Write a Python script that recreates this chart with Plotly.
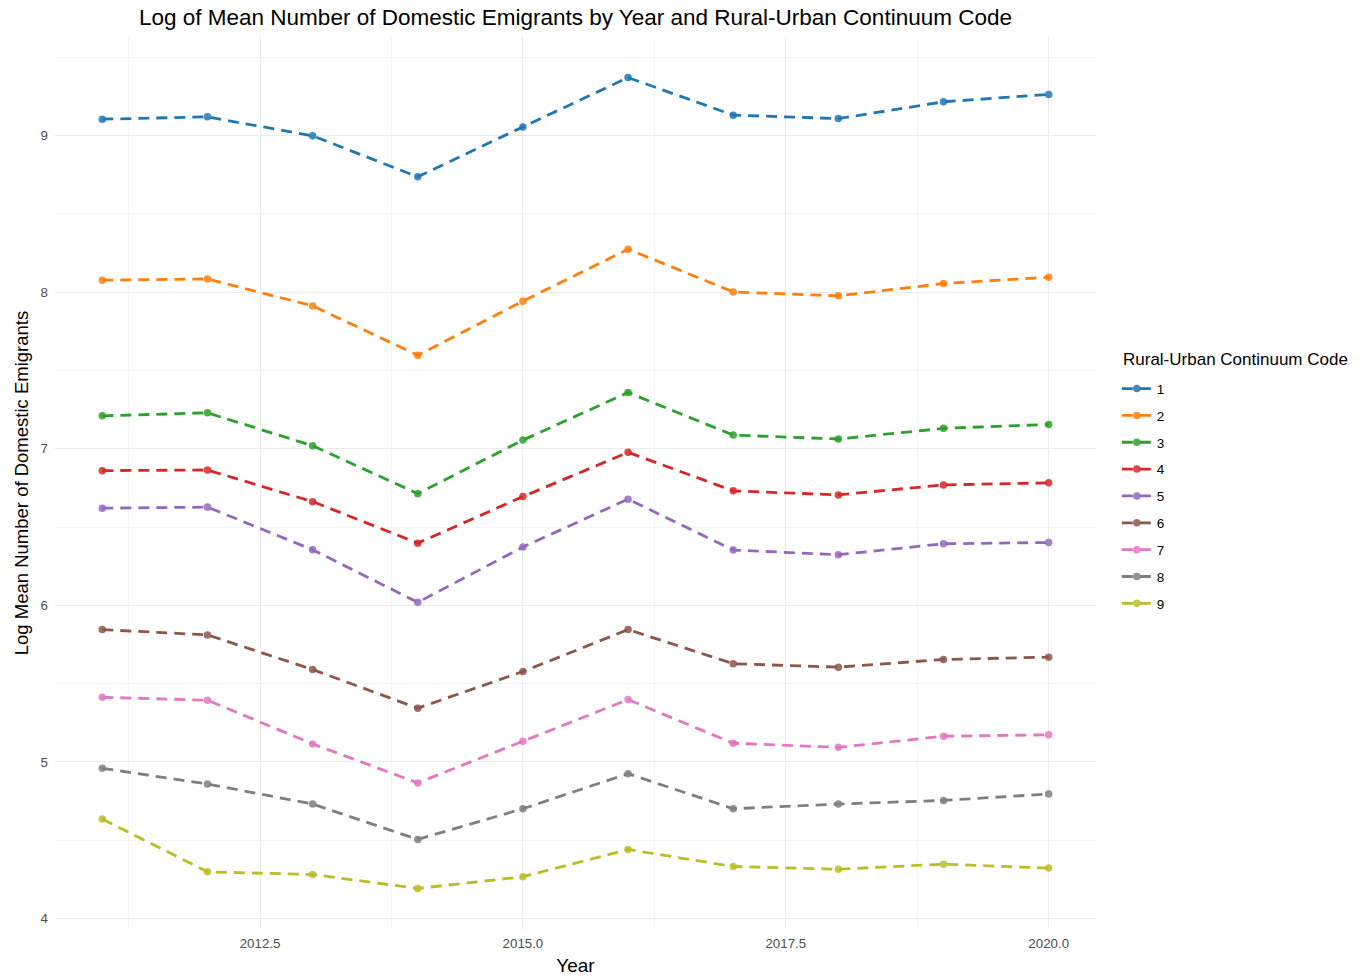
import plotly.graph_objects as go

years = [2011, 2012, 2013, 2014, 2015, 2016, 2017, 2018, 2019, 2020]
codes = ["1", "2", "3", "4", "5", "6", "7", "8", "9"]

code_1 = [9.104, 9.119, 8.998, 8.736, 9.055, 9.370, 9.130, 9.108, 9.215, 9.262]
code_2 = [8.076, 8.084, 7.912, 7.597, 7.942, 8.274, 8.001, 7.976, 8.055, 8.095]
code_3 = [7.210, 7.229, 7.019, 6.713, 7.055, 7.359, 7.087, 7.062, 7.130, 7.155]
code_4 = [6.860, 6.864, 6.662, 6.397, 6.694, 6.977, 6.731, 6.705, 6.769, 6.782]
code_5 = [6.620, 6.627, 6.355, 6.019, 6.372, 6.678, 6.353, 6.323, 6.393, 6.401]
code_6 = [5.845, 5.811, 5.590, 5.343, 5.577, 5.845, 5.627, 5.605, 5.654, 5.669]
code_7 = [5.413, 5.394, 5.115, 4.866, 5.132, 5.398, 5.119, 5.093, 5.164, 5.173]
code_8 = [4.959, 4.859, 4.731, 4.505, 4.701, 4.925, 4.701, 4.731, 4.754, 4.795]
code_9 = [4.635, 4.298, 4.281, 4.192, 4.267, 4.441, 4.332, 4.315, 4.347, 4.322]

series = [code_1, code_2, code_3, code_4, code_5, code_6, code_7, code_8, code_9]
colors = ["#1f77b4", "#ff7f0e", "#2ca02c", "#d62728", "#9467bd",
          "#8c564b", "#e377c2", "#7f7f7f", "#bcbd22"]

FONT = "Liberation Sans, Arial, sans-serif"

fig = go.Figure()
for code, vals, col in zip(codes, series, colors):
    fig.add_trace(go.Scatter(
        x=years, y=vals, name=code, legendgroup=code,
        mode="lines+markers",
        line=dict(color=col, width=2.8, dash="11px,7px"),
        marker=dict(color=col, size=7.5, opacity=0.85),
    ))

grid_major = "#ebebeb"
grid_minor = "#f4f4f4"

# legend heading drawn as its own text so the key entries can sit lower
fig.add_annotation(
    text="Rural-Urban Continuum Code",
    xref="paper", yref="paper", x=1.024, y=0.639,
    xanchor="left", yanchor="middle", showarrow=False,
    font=dict(size=17, family=FONT, color="#000000"),
)

fig.update_layout(
    width=1369, height=978,
    margin=dict(l=55, r=273, t=37, b=49),
    paper_bgcolor="white", plot_bgcolor="white",
    font=dict(family=FONT, color="#000000"),
    title=dict(
        text="Log of Mean Number of Domestic Emigrants by Year and Rural-Urban Continuum Code",
        x=0.5, xref="paper", xanchor="center",
        y=0.983, yref="container", yanchor="middle",
        font=dict(size=22.5, family=FONT, color="#000000"),
    ),
    xaxis=dict(
        range=[2010.55, 2020.45],
        tick0=2010, dtick=2.5, tickformat=".1f",
        showgrid=True, gridcolor=grid_major, gridwidth=1.4,
        minor=dict(dtick=1.25, tick0=2010, showgrid=True, gridcolor=grid_minor, gridwidth=1),
        zeroline=False, showline=False, ticks="",
        automargin=False,
        ticklabelstandoff=5,
        tickfont=dict(size=13.3, color="#4d4d4d", family=FONT),
        title=dict(text="Year", font=dict(size=19, family=FONT, color="#000000"), standoff=8),
    ),
    yaxis=dict(
        range=[3.933, 9.629],
        tick0=0, dtick=1,
        showgrid=True, gridcolor=grid_major, gridwidth=1.4,
        minor=dict(dtick=0.5, showgrid=True, gridcolor=grid_minor, gridwidth=1),
        zeroline=False, showline=False, ticks="",
        automargin=False,
        ticklabelstandoff=6,
        tickfont=dict(size=13.3, color="#4d4d4d", family=FONT),
        title=dict(text="Log Mean Number of Domestic Emigrants",
                   font=dict(size=18.5, family=FONT, color="#000000"), standoff=7),
    ),
    legend=dict(
        x=1.02, xanchor="left", y=0.623, yanchor="top",
        font=dict(size=13.5, family=FONT, color="#000000"),
        tracegroupgap=6.3, itemwidth=30,
        bgcolor="rgba(0,0,0,0)",
    ),
)

fig.write_html("out.html")
